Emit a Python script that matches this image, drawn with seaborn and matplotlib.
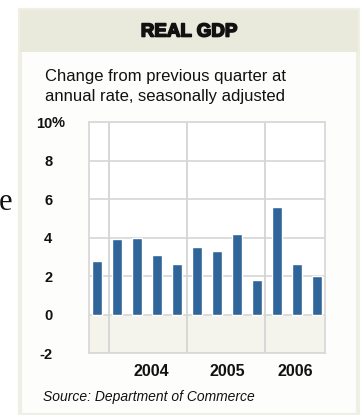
import matplotlib
matplotlib.use("Agg")
import matplotlib.pyplot as plt
from matplotlib.patches import Rectangle
import matplotlib.patheffects as pe
import seaborn as sns
import pandas as pd

# ---- data ----
quarters = ["2003Q4", "2004Q1", "2004Q2", "2004Q3", "2004Q4",
            "2005Q1", "2005Q2", "2005Q3", "2005Q4",
            "2006Q1", "2006Q2", "2006Q3"]
gdp_change = [2.8, 3.9, 4.0, 3.1, 2.6, 3.5, 3.3, 4.2, 1.8, 5.6, 2.6, 2.0]
year_labels = ["2004", "2005", "2006"]
year_label_pos = [2.7, 6.5, 9.9]
year_dividers = [0.6, 4.5, 8.4]
y_ticks = [-2, 0, 2, 4, 6, 8, 10]
y_tick_labels = ["-2", "0", "2", "4", "6", "8", "10"]

df = pd.DataFrame({"quarter": quarters, "change": gdp_change})

sns.set_theme(style="white")
plt.rcParams["font.family"] = ["Liberation Sans", "DejaVu Sans"]

W, H = 362, 415
fig = plt.figure(figsize=(W / 100, H / 100), dpi=100)
fig.patch.set_facecolor("white")

def px(x, y):
    return x / W, 1 - y / H

# panel
fig.patches.append(Rectangle(px(20, 415), 338 / W, 405 / H, transform=fig.transFigure,
                             facecolor="#fdfdfb", edgecolor="#efefe6", lw=3, zorder=-2))
fig.patches.append(Rectangle(px(20, 52), 338 / W, 42 / H, transform=fig.transFigure,
                             facecolor="#e9e9dc", edgecolor="none", zorder=-1))

# plot axes
L, R, T, B = 89, 325, 122, 353
ax = fig.add_axes([L / W, 1 - B / H, (R - L) / W, (B - T) / H])
ax.set_zorder(5)
ax.set_facecolor("white")
ax.axhspan(-2, 0, color="#f4f4ec", zorder=0, lw=0)

sns.barplot(data=df, x="quarter", y="change", order=quarters, color="#2f6598",
            saturation=1, width=0.5, ax=ax, zorder=3)

ax.set_xlim(-0.42, 11.38)
ax.set_ylim(-2, 10)
for yv in y_ticks:
    ax.axhline(yv, color="#d9d9d9", lw=1.3, zorder=1)
for xv in year_dividers:
    ax.axvline(xv, color="#d4d4d4", lw=1.3, zorder=1)
for s in ax.spines.values():
    s.set_color("#d9d9d9")
    s.set_linewidth(1.3)

ax.set_yticks(y_ticks)
ax.set_yticklabels(y_tick_labels, fontsize=10.5, fontweight="bold", color="#111111")
ax.tick_params(axis="y", length=0, pad=26.5)
ax.set_xticks(year_label_pos)
ax.set_xticklabels(year_labels, fontsize=11.5, fontweight="bold", color="#111111")
ax.tick_params(axis="x", length=0, pad=8)
ax.set_xlabel("")
ax.set_ylabel("")

# percent sign after 10
fig.text(*px(52, 123), "%", fontsize=10.5, fontweight="bold", color="#111111",
         ha="left", va="center", zorder=10)

# title and subtitle
fig.text(*px(189, 32), "REAL GDP", fontsize=13.5, fontweight="bold", color="#111111",
         ha="center", va="center",
         path_effects=[pe.withStroke(linewidth=1.2, foreground="#111111")])
fig.text(*px(45, 77), "Change from previous quarter at", fontsize=12, color="#111111",
         ha="left", va="center")
fig.text(*px(45, 97), "annual rate, seasonally adjusted", fontsize=12, color="#111111",
         ha="left", va="center")
fig.text(*px(43, 397), "Source: Department of Commerce", fontsize=10, style="italic",
         color="#111111", ha="left", va="center")

# fragment of page text at the left edge
fig.text(*px(12, 202), "e", fontsize=22, family=["Liberation Serif", "DejaVu Serif"],
         color="#111111", ha="right", va="center")

fig.savefig("out.png", dpi=100)
